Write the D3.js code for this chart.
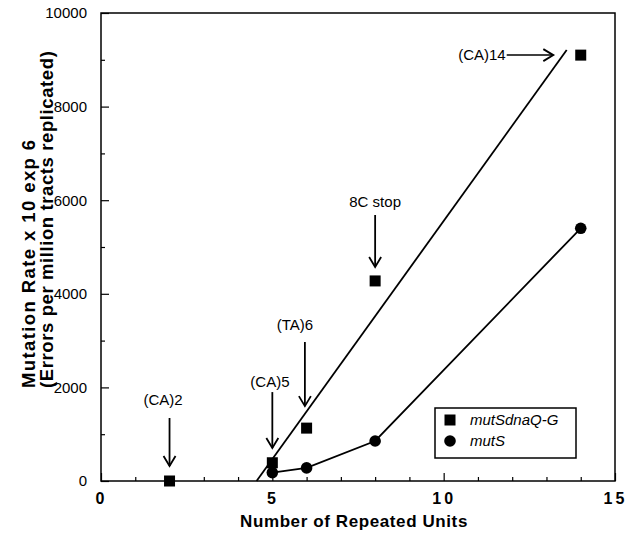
<!DOCTYPE html>
<html><head><meta charset="utf-8">
<script src="https://cdn.jsdelivr.net/npm/d3@7/dist/d3.min.js"></script>
<style>
html,body{margin:0;padding:0;background:#fff;}
svg{display:block;font-family:"Liberation Sans",Arial,Helvetica,sans-serif;}
</style></head>
<body><svg id="chart" width="626" height="533"></svg>
<script>
// ---- data ----
const xTickValues = [0, 5, 10, 15];
const yTickValues = [0, 2000, 4000, 6000, 8000, 10000];
const xMinorTicks = [1,2,3,4,6,7,8,9,11,12,13,14];
const yMinorTicks = [1000, 3000, 5000, 7000, 9000];

const dnaQUnits = [2, 5, 6, 8, 14];
const dnaQRates = [0, 390, 1130, 4275, 9100];
const mutSUnits = [5, 6, 8, 14];
const mutSRates = [180, 280, 855, 5400];

const fitUnits = [4.54, 13.59];
const fitRates = [0, 9210];

const seriesNames = ["mutSdnaQ-G", "mutS"];

const annoLabels = ["(CA)2", "(CA)5", "(TA)6", "8C stop"];
const annoArrowX = [2, 5, 5.95, 8];
const annoTextX = [1.81, 4.93, 5.66, 8.0];
const annoTip = [320, 705, 1600, 4573];
const annoStart = [1346, 1900, 2970, 5684];
const annoText = [1730, 2115, 3333, 5962];

const ca14Label = "(CA)14";
const ca14Rate = 9100;
const ca14From = 11.84, ca14To = 13.2;

// ---- layout ----
const svg = d3.select("#chart");
const L = 101, R = 615, T = 13, B = 481;
const x = d3.scaleLinear().domain([0, 15]).range([L, R]);
const y = d3.scaleLinear().domain([0, 10000]).range([B, T]);

// frame
svg.append("rect").attr("x", L).attr("y", T).attr("width", R - L).attr("height", B - T)
  .attr("fill", "none").attr("stroke", "#000").attr("stroke-width", 1.5);

// x axis
const xAxis = d3.axisBottom(x).tickValues(xTickValues).tickSize(-8).tickPadding(12)
  .tickFormat(d3.format("d"));
const gx = svg.append("g").attr("transform", `translate(0,${B})`).call(xAxis);
gx.select(".domain").remove();
gx.selectAll(".tick line").attr("stroke", "#000").attr("stroke-width", 1.2);
gx.selectAll(".tick text").attr("font-size", 16).attr("font-weight", "bold")
  .attr("letter-spacing", "3px").attr("fill", "#000")
  .attr("font-family", "'Liberation Sans',Arial,sans-serif");
const gxm = svg.append("g").attr("transform", `translate(0,${B})`)
  .call(d3.axisBottom(x).tickValues(xMinorTicks).tickSize(-4).tickFormat(""));
gxm.select(".domain").remove();
gxm.selectAll(".tick line").attr("stroke", "#000").attr("stroke-width", 1.2);

// y axis
const yAxis = d3.axisLeft(y).tickValues(yTickValues).tickSize(-8).tickPadding(14)
  .tickFormat(d3.format("d"));
const gy = svg.append("g").attr("transform", `translate(${L},0)`).call(yAxis);
gy.select(".domain").remove();
gy.selectAll(".tick line").attr("stroke", "#000").attr("stroke-width", 1.2);
gy.selectAll(".tick text").attr("font-size", 15).attr("fill", "#000")
  .attr("font-family", "'Liberation Sans',Arial,sans-serif");
const gym = svg.append("g").attr("transform", `translate(${L},0)`)
  .call(d3.axisLeft(y).tickValues(yMinorTicks).tickSize(-4).tickFormat(""));
gym.select(".domain").remove();
gym.selectAll(".tick line").attr("stroke", "#000").attr("stroke-width", 1.2);

// axis titles
svg.append("text").attr("x", (L + R) / 2 - 4).attr("y", 527).attr("text-anchor", "middle")
  .attr("font-size", 17).attr("font-weight", "bold").attr("letter-spacing", "0.6px")
  .text("Number of Repeated Units");
const yt = svg.append("g").attr("transform", "translate(0,388) rotate(-90)");
yt.append("text").attr("x", 0).attr("y", 35).attr("font-size", 18.5).attr("font-weight", "bold")
  .attr("letter-spacing", "1.4px").text("Mutation Rate x 10 exp 6");
yt.append("text").attr("x", 0).attr("y", 53).attr("font-size", 18.5).attr("font-weight", "bold")
  .attr("letter-spacing", "0.6px").text("(Errors per million tracts replicated)");

// fit line
svg.append("line").attr("x1", x(fitUnits[0])).attr("y1", y(fitRates[0]))
  .attr("x2", x(fitUnits[1])).attr("y2", y(fitRates[1]))
  .attr("stroke", "#000").attr("stroke-width", 1.8);

// mutS line
const mutSPts = mutSUnits.map((u, i) => [u, mutSRates[i]]);
svg.append("path").datum(mutSPts)
  .attr("d", d3.line().x(d => x(d[0])).y(d => y(d[1])))
  .attr("fill", "none").attr("stroke", "#000").attr("stroke-width", 1.8);

// markers
const sq = 11;
svg.append("g").selectAll("rect").data(dnaQUnits.map((u, i) => [u, dnaQRates[i]]))
  .join("rect").attr("x", d => x(d[0]) - sq / 2).attr("y", d => y(d[1]) - sq / 2)
  .attr("width", sq).attr("height", sq).attr("fill", "#000");
svg.append("g").selectAll("circle").data(mutSPts).join("circle")
  .attr("cx", d => x(d[0])).attr("cy", d => y(d[1])).attr("r", 5.8).attr("fill", "#000");

// annotations
function arrowHead(g, tx, ty, dir) {
  const a = 10, w = 6;
  let p;
  if (dir === "down") p = [[tx - w, ty - a], [tx, ty], [tx + w, ty - a]];
  else p = [[tx - a, ty - w], [tx, ty], [tx - a, ty + w]];
  g.append("path").attr("d", d3.line()(p)).attr("fill", "none")
    .attr("stroke", "#000").attr("stroke-width", 1.8);
}
const ag = svg.append("g");
annoLabels.forEach((lab, i) => {
  const ax = x(annoArrowX[i]);
  ag.append("line").attr("x1", ax).attr("x2", ax)
    .attr("y1", y(annoStart[i])).attr("y2", y(annoTip[i]))
    .attr("stroke", "#000").attr("stroke-width", 1.8);
  arrowHead(ag, ax, y(annoTip[i]), "down");
  ag.append("text").attr("x", x(annoTextX[i])).attr("y", y(annoText[i]))
    .attr("dy", "0.35em").attr("text-anchor", "middle").attr("font-size", 15).text(lab);
});
ag.append("line").attr("x1", x(ca14From)).attr("x2", x(ca14To))
  .attr("y1", y(ca14Rate)).attr("y2", y(ca14Rate)).attr("stroke", "#000").attr("stroke-width", 1.5);
arrowHead(ag, x(ca14To), y(ca14Rate), "right");
ag.append("text").attr("x", x(ca14From) - 1).attr("y", y(ca14Rate)).attr("dy", "0.35em")
  .attr("text-anchor", "end").attr("font-size", 15).text(ca14Label);

// legend
const lg = svg.append("g").attr("transform", "translate(435,408)");
lg.append("rect").attr("x", 0).attr("y", 0).attr("width", 141).attr("height", 50)
  .attr("fill", "#fff").attr("stroke", "#000").attr("stroke-width", 1.5);
lg.append("rect").attr("x", 15 - sq / 2).attr("y", 12 - sq / 2).attr("width", sq).attr("height", sq).attr("fill", "#000");
lg.append("circle").attr("cx", 15).attr("cy", 33).attr("r", 5.8).attr("fill", "#000");
lg.selectAll("text.lab").data(seriesNames).join("text").attr("class", "lab")
  .attr("x", 35).attr("y", (d, i) => 12 + i * 21).attr("dy", "0.35em")
  .attr("font-size", 15).attr("font-style", "italic").text(d => d);
</script></body></html>
